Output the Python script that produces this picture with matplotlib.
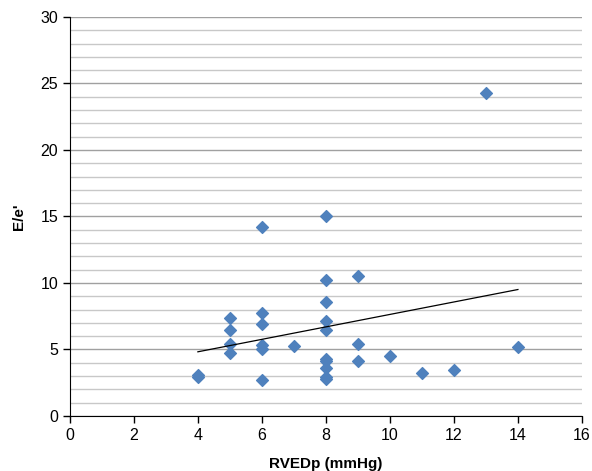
import matplotlib.pyplot as plt
import numpy as np

plt.rcParams['font.family'] = ['Liberation Sans', 'DejaVu Sans']

rvedp = [4, 4,
         5, 5, 5, 5,
         6, 6, 6, 6, 6, 6,
         7,
         8, 8, 8, 8, 8, 8, 8, 8, 8, 8,
         9, 9, 9,
         10, 11, 12, 13, 14]
ee = [3.1, 2.9,
      7.35, 6.45, 5.4, 4.7,
      14.2, 7.7, 6.9, 5.35, 5.0, 2.7,
      5.25,
      15.0, 10.25, 8.55, 7.1, 6.45, 4.3, 4.15, 3.6, 2.95, 2.8,
      10.5, 5.4, 4.15,
      4.5, 3.2, 3.45, 24.3, 5.15]

fig = plt.figure(figsize=(5.92, 4.71), dpi=100)
ax = fig.add_axes([0.118, 0.117, 0.865, 0.847])

ax.set_yticks(np.arange(0, 31, 1), minor=True)
ax.grid(True, which='major', axis='y', color='#a0a0a0', linewidth=1)
ax.grid(True, which='minor', axis='y', color='#c8c8c8', linewidth=1)
ax.set_axisbelow(True)

ax.scatter(rvedp, ee, marker='D', s=36, color='#4f81bd', zorder=3)

# linear trend line
k, b = np.polyfit(rvedp, ee, 1)
xs = np.array([min(rvedp), max(rvedp)])
ax.plot(xs, k * xs + b, color='black', linewidth=0.9, zorder=4)

ax.set_xlim(0, 16)
ax.set_ylim(0, 30)
ax.set_xticks(range(0, 17, 2))
ax.set_yticks(range(0, 31, 5))
ax.tick_params(axis='both', which='major', direction='out', length=5, labelsize=11.5, width=1)
ax.tick_params(axis='y', which='minor', length=0)
for s in ['top', 'right']:
    ax.spines[s].set_visible(False)
ax.set_xlabel('RVEDp (mmHg)', fontweight='bold', fontsize=11, labelpad=10)
ax.set_ylabel("E/e'", fontweight='bold', fontsize=11, labelpad=10)

plt.savefig('out.png', dpi=100)
